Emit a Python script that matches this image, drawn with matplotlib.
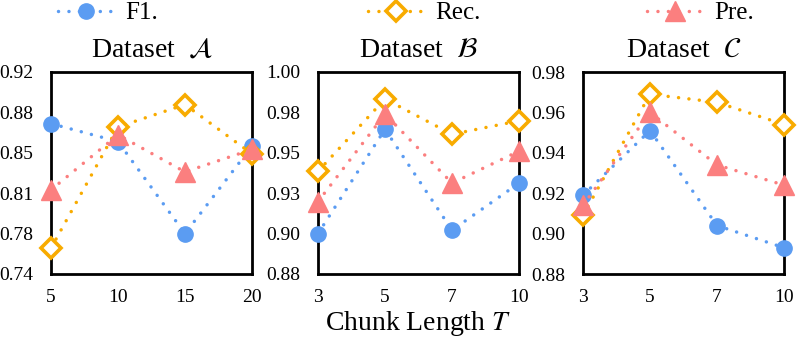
import numpy as np
import matplotlib
matplotlib.use("Agg")
import matplotlib.pyplot as plt
from matplotlib.lines import Line2D

plt.rcParams['font.family'] = ['Liberation Serif', 'DejaVu Serif']
plt.rcParams['mathtext.fontset'] = 'stix'

# --- data ---
titles = [r"Dataset  $\mathcal{A}$", r"Dataset  $\mathcal{B}$", r"Dataset  $\mathcal{C}$"]
xlabels_a = ["5", "10", "15", "20"]
xlabels_b = ["3", "5", "7", "10"]
xlabels_c = ["3", "5", "7", "10"]

f1_a = [0.874, 0.858, 0.776, 0.854]
rec_a = [0.763, 0.871, 0.891, 0.847]
pre_a = [0.815, 0.864, 0.831, 0.851]

f1_b = [0.904, 0.966, 0.906, 0.934]
rec_b = [0.941, 0.984, 0.963, 0.971]
pre_b = [0.923, 0.975, 0.934, 0.953]

f1_c = [0.919, 0.951, 0.904, 0.893]
rec_c = [0.909, 0.969, 0.965, 0.954]
pre_c = [0.914, 0.960, 0.934, 0.924]

ylims = [(0.74, 0.92), (0.88, 1.00), (0.88, 0.98)]

BLUE = "#5b9cf2"
ORANGE = "#f8ab00"
PINK = "#fb7f7f"

styles = {
    "F1.": dict(color=BLUE, marker="o", markersize=11, markerfacecolor=BLUE, markeredgecolor=BLUE),
    "Rec.": dict(color=ORANGE, marker="D", markersize=10, markerfacecolor="white",
                 markeredgecolor=ORANGE, markeredgewidth=2.6),
    "Pre.": dict(color=PINK, marker="^", markersize=14, markerfacecolor=PINK, markeredgecolor=PINK),
}
line_kw = dict(linestyle=(0, (0.01, 3.0)), linewidth=2.5, dash_capstyle="round", clip_on=False)

fig = plt.figure(figsize=(7.97, 3.42), dpi=100)
lefts = [51, 318, 583]
panels = [
    (xlabels_a, f1_a, rec_a, pre_a),
    (xlabels_b, f1_b, rec_b, pre_b),
    (xlabels_c, f1_c, rec_c, pre_c),
]

for i, (xl, f1, rec, pre) in enumerate(panels):
    ax = fig.add_axes([lefts[i] / 797, 1 - 274 / 342, 201 / 797, 202 / 342])
    xs = np.arange(len(xl))
    for name, vals in (("F1.", f1), ("Rec.", rec), ("Pre.", pre)):
        ax.plot(xs, vals, **line_kw, **styles[name], zorder=3)
    lo, hi = ylims[i]
    ax.set_xlim(0, len(xl) - 1)
    ax.set_ylim(lo, hi)
    yt = np.linspace(lo, hi, 6)
    ax.set_yticks(yt)
    ax.set_yticklabels([f"{v:.2f}" for v in yt])
    ax.set_xticks(xs)
    ax.set_xticklabels(xl)
    ax.tick_params(length=0, labelsize=14, pad=11)
    ax.tick_params(axis="y", pad=13)
    for sp in ax.spines.values():
        sp.set_linewidth(2.0)
        sp.set_color("black")
    ax.set_title(titles[i], fontsize=20, pad=11)
    if i == 1:
        ax.set_xlabel(r"Chunk Length $T$", fontsize=20, labelpad=2)

# legend across the top, one entry at a time
leg_x = [58 / 797, 368 / 797, 647 / 797]
for name, x0 in zip(["F1.", "Rec.", "Pre."], leg_x):
    h = Line2D([], [], **line_kw, **styles[name])
    fig.legend([h], [name], loc="center left", bbox_to_anchor=(x0, 1 - 13 / 342),
               frameon=False, fontsize=18, handlelength=2.2, borderpad=0,
               borderaxespad=0, handletextpad=0.5)

fig.savefig("out.png", dpi=100)
